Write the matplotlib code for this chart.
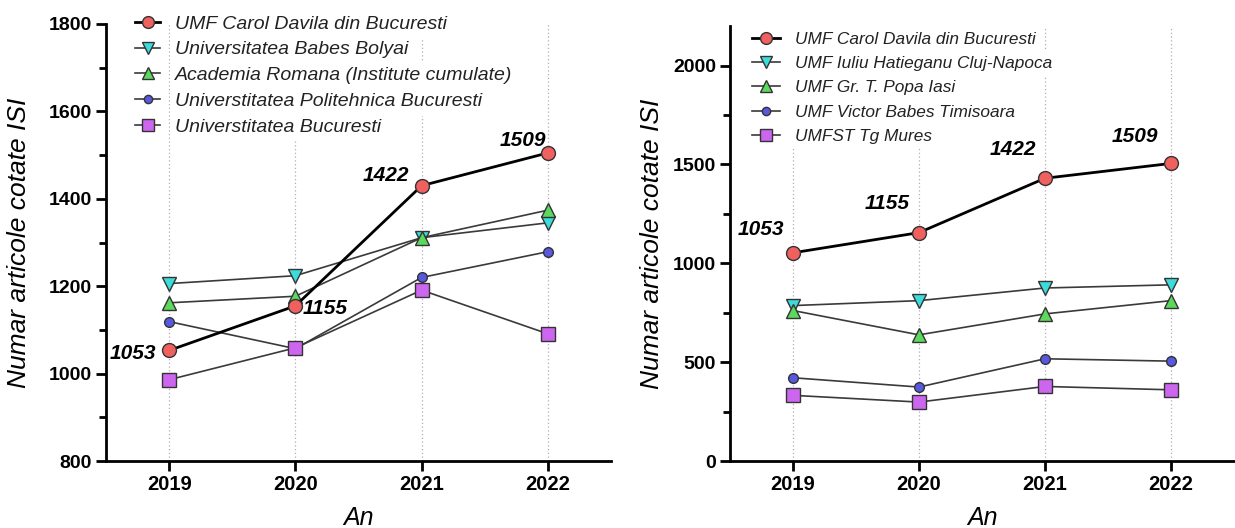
import matplotlib.pyplot as plt
from matplotlib.ticker import MultipleLocator

plt.rcParams['font.family'] = ['Liberation Sans', 'DejaVu Sans']

ani = [2019, 2020, 2021, 2022]

# panou stanga
nume_st = ["UMF Carol Davila din Bucuresti", "Universitatea Babes Bolyai",
           "Academia Romana (Institute cumulate)", "Universtitatea Politehnica Bucuresti",
           "Universtitatea Bucuresti"]
carol_davila = [1053, 1155, 1430, 1505]
babes_bolyai = [1206, 1224, 1311, 1345]
academia = [1162, 1177, 1311, 1374]
politehnica = [1119, 1057, 1220, 1279]
univ_buc = [986, 1059, 1191, 1091]

# panou dreapta
nume_dr = ["UMF Carol Davila din Bucuresti", "UMF Iuliu Hatieganu Cluj-Napoca",
           "UMF Gr. T. Popa Iasi", "UMF Victor Babes Timisoara", "UMFST Tg Mures"]
hatieganu = [786, 811, 875, 891]
popa = [761, 638, 744, 811]
victor_babes = [421, 374, 517, 505]
umfst = [332, 298, 377, 360]

etichete = ["1053", "1155", "1422", "1509"]

culori = ['#F0605F', '#3DDCDC', '#5CD85C', '#5858E0', '#CC66EE']
markere = ['o', 'v', '^', 'o', 's']
marimi = [10, 9.5, 9.5, 7, 9.5]

fig = plt.figure(figsize=(12.35, 5.28), dpi=100)
ax1 = fig.add_axes([106/1235, 1-461/528, 505/1235, 437/528])
ax2 = fig.add_axes([730/1235, 1-461/528, 504/1235, 435/528])


def deseneaza(ax, serii, nume, fs_leg, leg_xy, hl, htp, ls):
    for i, s in enumerate(serii):
        if i == 0:
            lc, lw, z = 'black', 2.0, 4
        else:
            lc, lw, z = '#3a3a3a', 1.2, 3
        ax.plot(ani, s, color=lc, lw=lw, marker=markere[i], ms=marimi[i],
                mfc=culori[i], mec='#333333', mew=1.0, label=nume[i], zorder=z)
    ax.set_xlim(2018.5, 2022.5)
    ax.set_xticks(ani)
    ax.grid(axis='x', color='#b8a8b8', lw=0.9, linestyle=(0, (1, 2)))
    ax.set_axisbelow(True)
    for sp in ['top', 'right']:
        ax.spines[sp].set_visible(False)
    for sp in ['left', 'bottom']:
        ax.spines[sp].set_linewidth(2)
    ax.tick_params(which='major', length=7, width=2, labelsize=14.5, pad=3)
    ax.tick_params(axis='y', which='major', labelsize=14)
    ax.tick_params(which='minor', length=5, width=2)
    ax.tick_params(axis='x', which='minor', length=0)
    ax.set_xlabel("An", fontsize=18, style='italic', labelpad=9)
    ax.set_ylabel("Numar articole cotate ISI", fontsize=19, style='italic')
    leg = ax.legend(loc='upper left', bbox_to_anchor=leg_xy, bbox_transform=fig.transFigure,
                    frameon=False, borderpad=0, borderaxespad=0, handlelength=hl,
                    handletextpad=htp, labelspacing=ls, markerscale=0.85,
                    prop={'size': fs_leg, 'style': 'italic'})
    for t in leg.get_texts():
        t.set_color('#222222')
        t.set_bbox(dict(facecolor='white', edgecolor='none', pad=4))
    return leg


deseneaza(ax1, [carol_davila, babes_bolyai, academia, politehnica, univ_buc], nume_st,
          14, (135/1235, 1-15/528), 1.3, 0.77, 0.42)
ax1.set_ylim(800, 1800)
ax1.yaxis.set_major_locator(MultipleLocator(200))
ax1.yaxis.set_minor_locator(MultipleLocator(100))
ax1.yaxis.set_label_coords(-0.149, 0.5)

deseneaza(ax2, [carol_davila, hatieganu, popa, victor_babes, umfst], nume_dr,
          12.4, (752/1235, 1-32/528), 1.6, 0.87, 0.53)
ax2.set_ylim(0, 2200)
ax2.yaxis.set_major_locator(MultipleLocator(500))
ax2.yaxis.set_minor_locator(MultipleLocator(250))
ax2.yaxis.set_label_coords(-0.131, 0.5)
for t in ax1.get_xticklabels() + ax1.get_yticklabels() + ax2.get_xticklabels() + ax2.get_yticklabels():
    t.set_fontweight('bold')

# etichete valori
off_st = [(-9, -2, 'right'), (5, -2, 'left'), (-26, 7, 'center'), (-18, 9, 'center')]
off_dr = [(-23, 16.5, 'center'), (-23, 21, 'center'), (-23, 21, 'center'), (-26, 19.5, 'center')]
for i in range(4):
    ax1.annotate(etichete[i], (ani[i], carol_davila[i]), xytext=off_st[i][:2],
                 textcoords='offset points', ha=off_st[i][2], va='center',
                 fontsize=15, fontweight='bold', style='italic', zorder=6)
    ax2.annotate(etichete[i], (ani[i], carol_davila[i]), xytext=off_dr[i][:2],
                 textcoords='offset points', ha=off_dr[i][2], va='center',
                 fontsize=15, fontweight='bold', style='italic', zorder=6)

fig.savefig("out.png", dpi=100)
